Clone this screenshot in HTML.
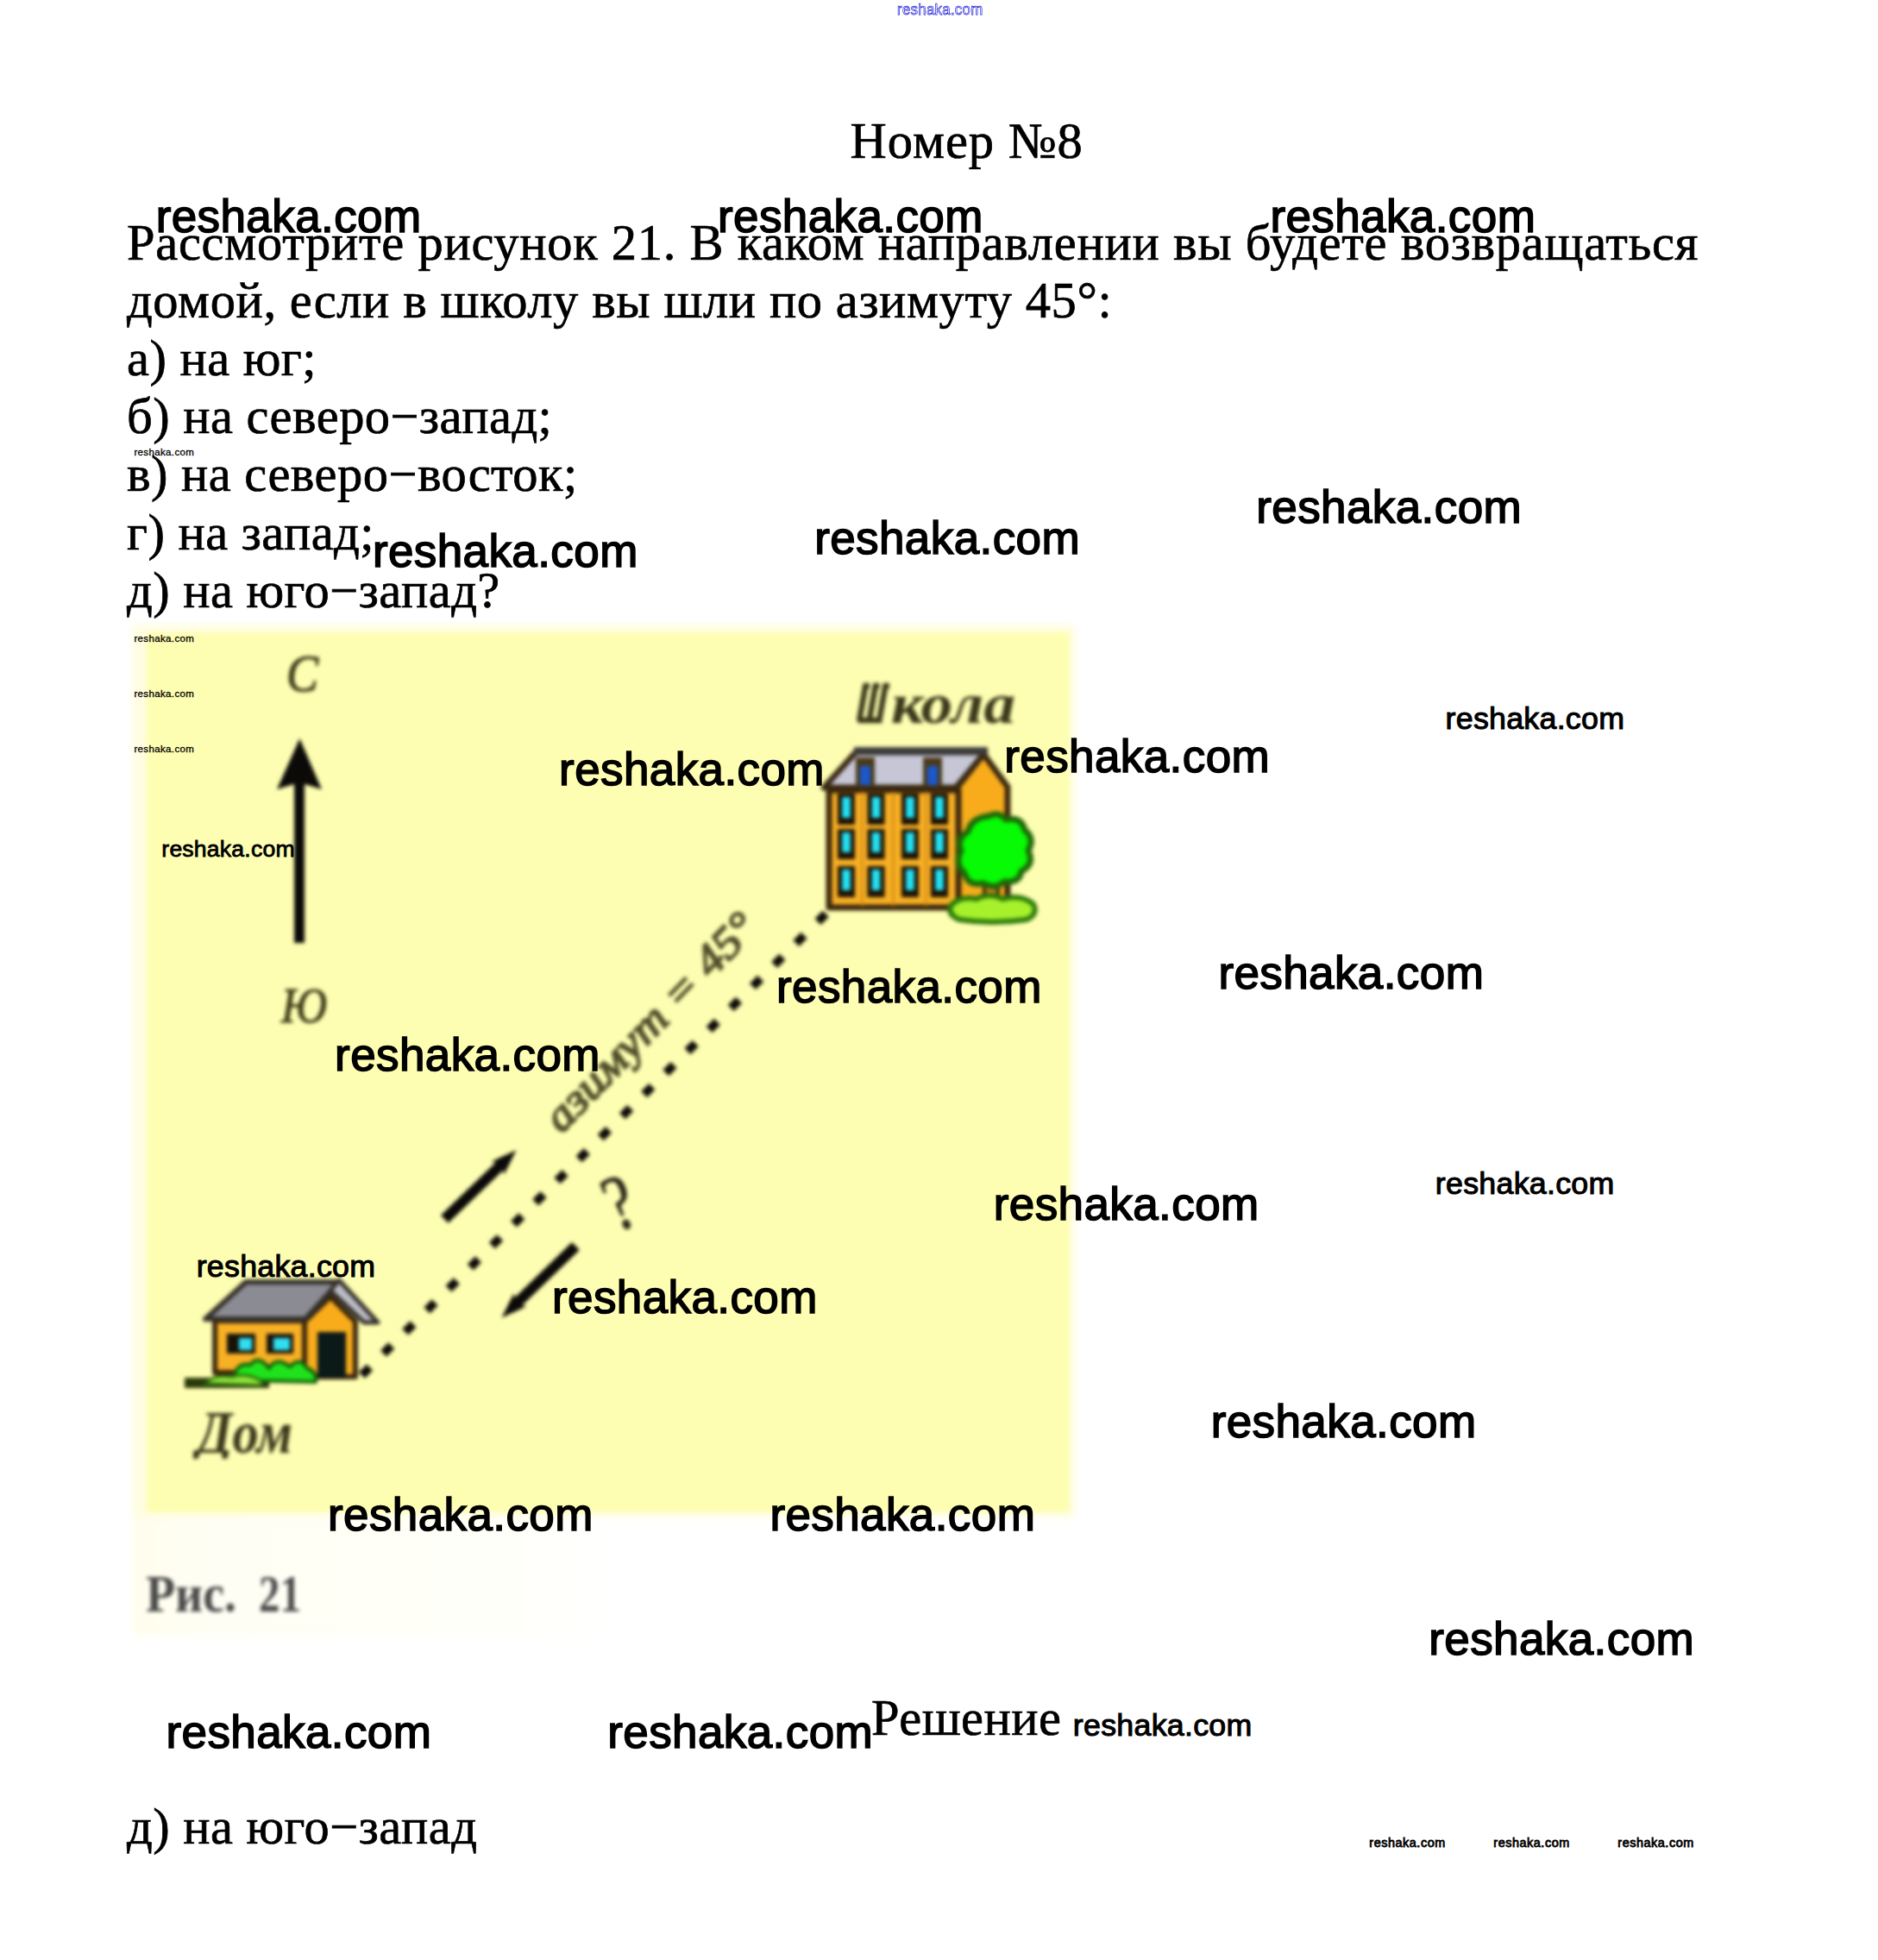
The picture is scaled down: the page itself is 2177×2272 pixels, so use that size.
<!DOCTYPE html>
<html lang="ru"><head><meta charset="utf-8"><title>Номер №8</title>
<style>
.d{position:relative;top:0;}
.s{-webkit-text-stroke:0.7px #000;}
html,body{margin:0;padding:0;background:#fff;}
body{width:2177px;height:2272px;position:relative;overflow:hidden;font-family:"Liberation Serif",serif;color:#000;}
.t{position:absolute;line-height:0;white-space:nowrap;}
.s{font-family:"Liberation Serif",serif;}
.w{font-family:"Liberation Sans",sans-serif;transform-origin:0 50%;}
#fig{position:absolute;left:0;top:0;}
</style></head><body>

<svg id="fig" width="2177" height="2272" viewBox="0 0 2177 2272">
<defs>
<filter id="b6" color-interpolation-filters="sRGB" x="-5%" y="-5%" width="110%" height="110%"><feGaussianBlur stdDeviation="5"/></filter>
<filter id="b2" color-interpolation-filters="sRGB" x="-5%" y="-5%" width="110%" height="110%"><feGaussianBlur stdDeviation="2.2"/></filter>
<filter id="b3" color-interpolation-filters="sRGB" x="-5%" y="-5%" width="110%" height="110%"><feGaussianBlur stdDeviation="2.8"/></filter>
<linearGradient id="cr" x1="0" x2="1" y1="0" y2="0"><stop offset="0" stop-color="#fffdec"/><stop offset="0.06" stop-color="#fffef3"/><stop offset="0.4" stop-color="#fffffa"/><stop offset="0.52" stop-color="#ffffff"/><stop offset="1" stop-color="#ffffff"/></linearGradient>
<clipPath id="cd"><rect x="200" y="1620" width="200" height="71"/></clipPath>
</defs>
<!-- image backdrop -->
<g filter="url(#b6)">
<rect x="154" y="724" width="1096" height="1172" fill="url(#cr)"/>
<rect x="154" y="724" width="1092" height="1034" fill="#fffde0"/>
</g>
<g filter="url(#b3)">
<rect x="170" y="733" width="1070" height="1020" fill="#fefeb2"/>
</g>
<g filter="url(#b2)">
<!-- compass -->
<g font-family="Liberation Serif, serif" font-style="italic" fill="#3c3a18" stroke="#3c3a18" stroke-width="1.2">
<text x="332" y="801" font-size="61" textLength="37" lengthAdjust="spacingAndGlyphs">С</text>
<text x="326" y="1185" font-size="57" textLength="53" lengthAdjust="spacingAndGlyphs">Ю</text>
</g>
<rect x="341" y="905" width="12" height="188" fill="#0c0a08"/>
<path d="M347.4 856 L373 915 L353 909 L341 909 L321 915 Z" fill="#0c0a08"/>
<!-- dotted path -->
<line x1="418" y1="1595.5" x2="958" y2="1058.5" stroke="#0e0c08" stroke-width="10" stroke-dasharray="13 22.5" stroke-dashoffset="-2"/>
<!-- arrows -->
<line x1="515.3" y1="1413.3" x2="586.8" y2="1344.5" stroke="#0c0a08" stroke-width="12.5" stroke-linecap="butt"/>
<path d="M598.5 1333.3 L584.2 1361.7 L583.4 1356.5 L574.7 1347.5 L569.6 1346.5 Z" fill="#0c0a08"/>
<line x1="667.4" y1="1444.6" x2="593.2" y2="1516.3" stroke="#0c0a08" stroke-width="12.5" stroke-linecap="butt"/>
<path d="M581.5 1527.5 L595.8 1499.1 L596.6 1504.3 L605.3 1513.2 L610.4 1514.2 Z" fill="#0c0a08"/>
<!-- rotated labels -->
<g font-family="Liberation Serif, serif" font-style="italic">
<text transform="translate(651,1315) rotate(-46)" font-size="51" fill="#504e2a" stroke="#504e2a" stroke-width="2.1" textLength="330" lengthAdjust="spacingAndGlyphs">азимут = 45°</text>
<text transform="translate(714.4,1428.4) rotate(-22) scale(0.78,1)" font-size="92" fill="#2a2818" stroke="#2a2818" stroke-width="1.2" font-style="normal">?</text>
</g>
<!-- Школа label -->
<g font-family="Liberation Serif, serif" font-style="italic" font-weight="bold" fill="#3a381a">
<path d="M1003.5 794 L996 836 M1015 794 L1007.5 836 M1026.5 794 L1019 836 M994.5 835 L1022.5 835 M1000.5 795 L1008 795 M1012 795 L1019.5 795 M1023.5 795 L1031 795" stroke="#3a381a" stroke-width="6.5" fill="none"/>
<text x="1033" y="838" font-size="66" textLength="144" lengthAdjust="spacingAndGlyphs">кола</text>
<text x="228" y="1684" font-size="70" textLength="111" lengthAdjust="spacingAndGlyphs" clip-path="url(#cd)">Дом</text>
</g>
<!-- school -->
<g stroke-linejoin="round">
<!-- side wall -->
<path d="M1110 1050 L1110 912 L1140 874 L1168 912 L1168 1050 Z" fill="#f8ac1c" stroke="#3a260c" stroke-width="7"/>
<!-- roof -->
<path d="M992 872 L1142 872 L1108 913 L955 913 Z" fill="#c6c6d6" stroke="#3a2a14" stroke-width="7"/>
<rect x="990" y="866" width="155" height="9" fill="#3c3c3c"/>
<!-- front wall -->
<rect x="961" y="916" width="150" height="136" fill="#f8b024" stroke="#3a260c" stroke-width="7"/>
</g>
<!-- dormers -->
<g>
<rect x="992" y="878" width="22" height="34" fill="#4a3a1a"/><rect x="997" y="888" width="12" height="22" fill="#1b58cc"/>
<rect x="1070" y="878" width="22" height="34" fill="#4a3a1a"/><rect x="1075" y="888" width="12" height="22" fill="#1b58cc"/>
</g>
<!-- windows -->
<g fill="#d8901a"><rect x="998" y="918" width="3" height="132" /><rect x="1034" y="918" width="3" height="132" /><rect x="1072" y="918" width="3" height="132" /></g>
<g fill="#1c1206"><rect x="971.0" y="920" width="20" height="36"/><rect x="1005.5" y="920" width="20" height="36"/><rect x="1045.0" y="920" width="20" height="36"/><rect x="1079.0" y="920" width="20" height="36"/><rect x="971.0" y="961" width="20" height="35"/><rect x="1005.5" y="961" width="20" height="35"/><rect x="1045.0" y="961" width="20" height="35"/><rect x="1079.0" y="961" width="20" height="35"/><rect x="971.0" y="1004" width="20" height="36"/><rect x="1005.5" y="1004" width="20" height="36"/><rect x="1045.0" y="1004" width="20" height="36"/><rect x="1079.0" y="1004" width="20" height="36"/></g>
<g fill="#22e2f4"><rect x="976.25" y="924" width="9.5" height="24"/><rect x="1010.75" y="924" width="9.5" height="24"/><rect x="1050.25" y="924" width="9.5" height="24"/><rect x="1084.25" y="924" width="9.5" height="24"/><rect x="976.25" y="965" width="9.5" height="23"/><rect x="1010.75" y="965" width="9.5" height="23"/><rect x="1050.25" y="965" width="9.5" height="23"/><rect x="1084.25" y="965" width="9.5" height="23"/><rect x="976.25" y="1008" width="9.5" height="24"/><rect x="1010.75" y="1008" width="9.5" height="24"/><rect x="1050.25" y="1008" width="9.5" height="24"/><rect x="1084.25" y="1008" width="9.5" height="24"/></g>
<!-- tree -->
<rect x="1141" y="1018" width="16" height="30" fill="#cf7c1c" stroke="#3a260c" stroke-width="4"/>
<path d="M1146 946 q12 -6 20 4 q18 -4 22 12 q12 10 4 24 q8 16 -8 24 q-2 14 -20 12 q-10 10 -24 2 q-18 4 -22 -12 q-12 -10 -4 -26 q-6 -14 8 -22 q4 -16 24 -18 Z" fill="#06fb04" stroke="#1d6a08" stroke-width="7" stroke-linejoin="round"/>
<path d="M1102 1050 q10 -12 30 -8 q16 -8 30 0 q22 -6 36 6 q6 12 -8 18 q-40 6 -78 0 q-14 -6 -10 -16 Z" fill="#a6f02c" stroke="#2a7a08" stroke-width="6" stroke-linejoin="round"/>
<!-- house -->
<g stroke-linejoin="round">
<rect x="249" y="1531" width="104" height="60" fill="#f8b024" stroke="#3a260c" stroke-width="6"/>
<path d="M353 1596 L353 1532 L383 1503 L412 1532 L412 1596 Z" fill="#f8ac1c" stroke="#3a260c" stroke-width="6"/>
<path d="M285 1486 L393 1486 L354 1529 L238 1529 Z" fill="#8b8b93" stroke="#34302a" stroke-width="6"/>
<path d="M393 1484 L438 1533 L422 1533 L383 1496 Z" fill="#bcbcc6" stroke="#34302a" stroke-width="5"/>
</g>
<rect x="263" y="1546" width="33" height="23" fill="#16120a"/><rect x="277" y="1551" width="15" height="14" fill="#2fe0f2"/>
<rect x="309" y="1546" width="31" height="23" fill="#16120a"/><rect x="317" y="1551" width="19" height="14" fill="#2fe0f2"/>
<rect x="368" y="1544" width="33" height="53" fill="#0b1a18"/>
<rect x="214" y="1597" width="98" height="12" fill="#2a3a08"/>
<path d="M270 1600 q4 -22 20 -18 q10 -12 22 4 q8 -14 24 -2 q12 -12 20 2 q12 4 10 16 Z" fill="#20e21c" stroke="#126008" stroke-width="4" stroke-linejoin="round"/>
<path d="M238 1604 q10 -12 30 -8 q20 -6 36 6 q0 4 -4 4 Z" fill="#8ee23c" stroke="#2a6a08" stroke-width="3"/>
<!-- caption -->
<g font-family="Liberation Serif, serif" font-weight="bold" font-size="61" fill="#4a4a4a"><text x="169" y="1868" textLength="105" lengthAdjust="spacingAndGlyphs">Рис.</text><text x="300" y="1868" textLength="49" lengthAdjust="spacingAndGlyphs">21</text></g>
</g>
</svg>

<div class="t s" style="left:985.50px;top:163.76px;font-size:58.5px;letter-spacing:1.0px;">Номер №8</div>
<div class="t s" style="left:147.00px;top:281.66px;font-size:58.5px;letter-spacing:0.7px;word-spacing:0.15px;">Рассмотрите рисунок 21. В каком направлении вы будете возвращаться</div>
<div class="t s" style="left:147.00px;top:348.86px;font-size:58.5px;letter-spacing:0.58px;">домой, если в школу вы шли по азимуту 45°:</div>
<div class="t s" style="left:147.00px;top:416.06px;font-size:58.5px;letter-spacing:0.45px;">а) на юг;</div>
<div class="t s" style="left:147.00px;top:483.26px;font-size:58.5px;letter-spacing:0.45px;">б) на северо<span class="d">−</span>запад;</div>
<div class="t s" style="left:147.00px;top:550.46px;font-size:58.5px;letter-spacing:0.45px;">в) на северо<span class="d">−</span>восток;</div>
<div class="t s" style="left:147.00px;top:617.66px;font-size:58.5px;letter-spacing:0.45px;">г) на запад;</div>
<div class="t s" style="left:147.00px;top:684.86px;font-size:58.5px;letter-spacing:0.45px;">д) на юго<span class="d">−</span>запад?</div>
<div class="t s" style="left:1010.00px;top:1991.76px;font-size:58.5px;letter-spacing:0.45px;">Решение</div>
<div class="t s" style="left:147.00px;top:2117.66px;font-size:58.5px;letter-spacing:0.45px;">д) на юго<span class="d">−</span>запад</div>
<div class="t w" style="left:1040.20px;top:10.99px;font-size:18.8px;letter-spacing:0.3px;color:#fff;-webkit-text-stroke:0.75px #2020d8;transform:scaleX(0.898);">reshaka.com</div>
<div class="t w" style="left:180.68px;top:251.24px;font-size:53.0px;letter-spacing:0.4px;-webkit-text-stroke:1.59px #000;">reshaka.com</div>
<div class="t w" style="left:831.98px;top:251.24px;font-size:53.0px;letter-spacing:0.4px;-webkit-text-stroke:1.59px #000;">reshaka.com</div>
<div class="t w" style="left:1472.38px;top:251.24px;font-size:53.0px;letter-spacing:0.4px;-webkit-text-stroke:1.59px #000;">reshaka.com</div>
<div class="t w" style="left:1456.28px;top:588.24px;font-size:53.0px;letter-spacing:0.4px;-webkit-text-stroke:1.59px #000;">reshaka.com</div>
<div class="t w" style="left:944.18px;top:623.84px;font-size:53.0px;letter-spacing:0.4px;-webkit-text-stroke:1.59px #000;">reshaka.com</div>
<div class="t w" style="left:431.88px;top:639.24px;font-size:53.0px;letter-spacing:0.4px;-webkit-text-stroke:1.59px #000;">reshaka.com</div>
<div class="t w" style="left:648.08px;top:891.64px;font-size:53.0px;letter-spacing:0.4px;-webkit-text-stroke:1.59px #000;">reshaka.com</div>
<div class="t w" style="left:1164.28px;top:876.84px;font-size:53.0px;letter-spacing:0.4px;-webkit-text-stroke:1.59px #000;">reshaka.com</div>
<div class="t w" style="left:899.98px;top:1143.54px;font-size:53.0px;letter-spacing:0.4px;-webkit-text-stroke:1.59px #000;">reshaka.com</div>
<div class="t w" style="left:1412.38px;top:1127.64px;font-size:53.0px;letter-spacing:0.4px;-webkit-text-stroke:1.59px #000;">reshaka.com</div>
<div class="t w" style="left:388.08px;top:1223.14px;font-size:53.0px;letter-spacing:0.4px;-webkit-text-stroke:1.59px #000;">reshaka.com</div>
<div class="t w" style="left:1151.78px;top:1396.14px;font-size:53.0px;letter-spacing:0.4px;-webkit-text-stroke:1.59px #000;">reshaka.com</div>
<div class="t w" style="left:639.98px;top:1503.64px;font-size:53.0px;letter-spacing:0.4px;-webkit-text-stroke:1.59px #000;">reshaka.com</div>
<div class="t w" style="left:1403.68px;top:1647.94px;font-size:53.0px;letter-spacing:0.4px;-webkit-text-stroke:1.59px #000;">reshaka.com</div>
<div class="t w" style="left:379.98px;top:1755.84px;font-size:53.0px;letter-spacing:0.4px;-webkit-text-stroke:1.59px #000;">reshaka.com</div>
<div class="t w" style="left:892.38px;top:1755.94px;font-size:53.0px;letter-spacing:0.4px;-webkit-text-stroke:1.59px #000;">reshaka.com</div>
<div class="t w" style="left:1656.28px;top:1900.04px;font-size:53.0px;letter-spacing:0.4px;-webkit-text-stroke:1.59px #000;">reshaka.com</div>
<div class="t w" style="left:192.48px;top:2007.74px;font-size:53.0px;letter-spacing:0.4px;-webkit-text-stroke:1.59px #000;">reshaka.com</div>
<div class="t w" style="left:704.28px;top:2007.74px;font-size:53.0px;letter-spacing:0.4px;-webkit-text-stroke:1.59px #000;">reshaka.com</div>
<div class="t w" style="left:1675.57px;top:832.61px;font-size:35.75px;letter-spacing:0.27px;-webkit-text-stroke:1.07px #000;">reshaka.com</div>
<div class="t w" style="left:1663.87px;top:1372.41px;font-size:35.75px;letter-spacing:0.27px;-webkit-text-stroke:1.07px #000;">reshaka.com</div>
<div class="t w" style="left:1243.87px;top:2000.21px;font-size:35.75px;letter-spacing:0.27px;-webkit-text-stroke:1.07px #000;">reshaka.com</div>
<div class="t w" style="left:227.67px;top:1468.21px;font-size:35.75px;letter-spacing:0.27px;-webkit-text-stroke:1.07px #000;">reshaka.com</div>
<div class="t w" style="left:187.34px;top:983.98px;font-size:26.6px;letter-spacing:0.2px;-webkit-text-stroke:0.80px #000;">reshaka.com</div>
<div class="t w" style="left:155.42px;top:523.92px;font-size:11.5px;letter-spacing:0.36px;-webkit-text-stroke:0.30px #000;">reshaka.com</div>
<div class="t w" style="left:155.42px;top:740.02px;font-size:11.5px;letter-spacing:0.36px;-webkit-text-stroke:0.30px #000;">reshaka.com</div>
<div class="t w" style="left:155.42px;top:803.82px;font-size:11.5px;letter-spacing:0.36px;-webkit-text-stroke:0.30px #000;">reshaka.com</div>
<div class="t w" style="left:155.42px;top:867.62px;font-size:11.5px;letter-spacing:0.36px;-webkit-text-stroke:0.30px #000;">reshaka.com</div>
<div class="t w" style="left:1587.31px;top:2135.81px;font-size:14.4px;letter-spacing:0.55px;-webkit-text-stroke:0.80px #000;">reshaka.com</div>
<div class="t w" style="left:1731.31px;top:2135.81px;font-size:14.4px;letter-spacing:0.55px;-webkit-text-stroke:0.80px #000;">reshaka.com</div>
<div class="t w" style="left:1875.31px;top:2135.81px;font-size:14.4px;letter-spacing:0.55px;-webkit-text-stroke:0.80px #000;">reshaka.com</div>
</body></html>
